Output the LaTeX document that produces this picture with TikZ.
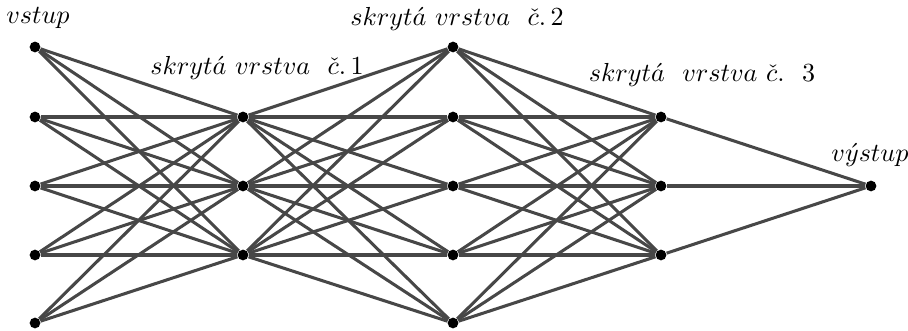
\documentclass[tikz,border=0pt]{standalone}
\usepackage{tikz}
\usetikzlibrary{backgrounds}

\begin{document}
\begin{tikzpicture}[
  x=0.41pt, y=-0.41pt,
  neuron/.style={circle, fill=black, inner sep=0pt, minimum size=4.4pt},
  synapse/.style={draw=black!72, line width=1.25pt},
  layertitle/.style={inner sep=0pt, scale=1.07, transform shape}
]
  \useasboundingbox (0,0) rectangle (908,331);

  % layers
  \foreach \i/\y in {1/47,2/117,3/186,4/255,5/323}
    \node[neuron] (in\i) at (35,\y) {};
  \foreach \i/\y in {1/117,2/186,3/255}
    \node[neuron] (ha\i) at (243,\y) {};
  \foreach \i/\y in {1/47,2/117,3/186,4/255,5/323}
    \node[neuron] (hb\i) at (453,\y) {};
  \foreach \i/\y in {1/117,2/186,3/255}
    \node[neuron] (hc\i) at (661,\y) {};
  \node[neuron] (out) at (871,186) {};

  % titles
  \node[layertitle] (tin) at (38,18) {$vstup$};
  \node[layertitle] (tha) at (257,68) {$skryt\acute{a}\ vrstva\ \ \check{c}.\,1$};
  \node[layertitle] (thb) at (457,19) {$skryt\acute{a}\ vrstva\ \ \check{c}.\,2$};
  \node[layertitle] (thc) at (702,75) {$skryt\acute{a}\ \ vrstva\ \check{c}.\ \ 3$};
  \node[layertitle] (tout) at (870,155) {$v\acute{y}stup$};

  % connections
  \begin{scope}[on background layer]
    \foreach \a in {1,...,5}
      \foreach \b in {1,2,3}
        \draw[synapse] (in\a) -- (ha\b);
    \foreach \a in {1,2,3}
      \foreach \b in {1,...,5}
        \draw[synapse] (ha\a) -- (hb\b);
    \foreach \a in {1,...,5}
      \foreach \b in {1,2,3}
        \draw[synapse] (hb\a) -- (hc\b);
    \foreach \a in {1,2,3}
      \draw[synapse] (hc\a) -- (out);
  \end{scope}
\end{tikzpicture}
\end{document}
